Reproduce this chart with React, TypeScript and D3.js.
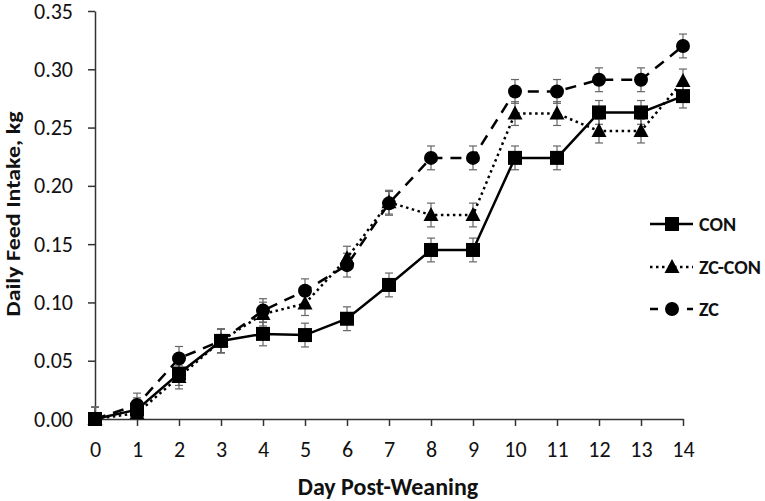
import * as d3 from "d3";
import React, { useEffect, useRef } from "react";

const days = [0, 1, 2, 3, 4, 5, 6, 7, 8, 9, 10, 11, 12, 13, 14];
const con = [0, 0.008, 0.039, 0.067, 0.073, 0.072, 0.086, 0.115, 0.145, 0.145, 0.224, 0.224, 0.263, 0.263, 0.277];
const zcCon = [0, 0.005, 0.036, 0.067, 0.09, 0.099, 0.138, 0.186, 0.175, 0.175, 0.262, 0.262, 0.247, 0.247, 0.29];
const zc = [0, 0.012, 0.052, 0.067, 0.093, 0.11, 0.132, 0.185, 0.224, 0.224, 0.281, 0.281, 0.291, 0.291, 0.32];
const errors = 0.0102;
const yTicks = [0, 0.05, 0.1, 0.15, 0.2, 0.25, 0.3, 0.35];

const seriesList = [
  { name: "CON", values: con, marker: "square", dash: null as string | null, legendDash: null as string | null },
  { name: "ZC-CON", values: zcCon, marker: "triangle", dash: "2.5,3.5", legendDash: "2.5,3.5" },
  { name: "ZC", values: zc, marker: "circle", dash: "11,8", legendDash: "8,29,6,100" },
];

const font = "Carlito, 'Open Sans', 'Noto Sans', sans-serif";

const App: React.FC = () => {
  const svgRef = useRef<SVGSVGElement>(null);

  useEffect(() => {
    const svg = d3.select(svgRef.current);
    svg.selectAll("*").remove();

    const x = d3.scaleLinear().domain([0, 14]).range([95, 683]);
    const y = d3.scaleLinear().domain([0, 0.35]).range([419, 11]);

    // y axis
    const yAxis = svg.append("g").attr("transform", "translate(95,0)")
      .call(d3.axisLeft(y).tickValues(yTicks).tickFormat(d3.format(".2f")).tickSize(7).tickSizeOuter(0));
    yAxis.select(".domain").attr("stroke", "#333").attr("stroke-width", 1.5);
    yAxis.selectAll(".tick line").attr("stroke", "#333").attr("stroke-width", 1.5);
    yAxis.selectAll(".tick text").attr("font-family", font).attr("font-size", 22).attr("fill", "#111").attr("x", -22);

    // x axis
    const xAxis = svg.append("g").attr("transform", "translate(0,419)")
      .call(d3.axisBottom(x).tickValues(days).tickFormat(d3.format("d")).tickSize(7).tickSizeOuter(0));
    xAxis.select(".domain").attr("stroke", "#333").attr("stroke-width", 1.5);
    xAxis.selectAll(".tick line").attr("stroke", "#333").attr("stroke-width", 1.5);
    xAxis.selectAll(".tick text").attr("font-family", font).attr("font-size", 22).attr("fill", "#111").attr("y", 22);

    // titles
    svg.append("text").attr("x", 388).attr("y", 495).attr("text-anchor", "middle")
      .attr("font-family", font).attr("font-weight", "bold").attr("font-size", 24).attr("fill", "#111")
      .text("Day Post-Weaning");
    svg.append("text").attr("transform", "translate(20,214) rotate(-90)").attr("text-anchor", "middle")
      .attr("font-family", font).attr("font-weight", "bold").attr("font-size", 21).attr("fill", "#111")
      .attr("textLength", 205).attr("lengthAdjust", "spacingAndGlyphs")
      .text("Daily Feed Intake, kg");

    const drawMarker = (g: d3.Selection<SVGGElement, unknown, null, undefined>, kind: string, cx: number, cy: number) => {
      if (kind === "square") {
        g.append("rect").attr("x", cx - 7).attr("y", cy - 7).attr("width", 14).attr("height", 14).attr("fill", "#000");
      } else if (kind === "triangle") {
        g.append("path").attr("d", `M${cx},${cy - 8}L${cx + 7.5},${cy + 6}L${cx - 7.5},${cy + 6}Z`).attr("fill", "#000");
      } else {
        g.append("circle").attr("cx", cx).attr("cy", cy).attr("r", 7).attr("fill", "#000");
      }
    };

    const line = d3.line<number>().x((_, i) => x(days[i])).y(d => y(d));

    // error bars first
    const eb = svg.append("g").attr("stroke", "#666").attr("stroke-width", 1.2);
    seriesList.forEach(s => {
      s.values.forEach((v, i) => {
        const cx = x(days[i]);
        const lo = y(Math.max(0, v - errors));
        const hi = y(v + errors);
        eb.append("line").attr("x1", cx).attr("x2", cx).attr("y1", lo).attr("y2", hi);
        eb.append("line").attr("x1", cx - 4).attr("x2", cx + 4).attr("y1", hi).attr("y2", hi);
        if (v - errors > 0) eb.append("line").attr("x1", cx - 4).attr("x2", cx + 4).attr("y1", lo).attr("y2", lo);
      });
    });

    seriesList.forEach(s => {
      const g = svg.append("g");
      const p = g.append("path").attr("d", line(s.values) as string).attr("fill", "none")
        .attr("stroke", "#000").attr("stroke-width", 2.5);
      if (s.dash) p.attr("stroke-dasharray", s.dash);
      s.values.forEach((v, i) => drawMarker(g as any, s.marker, x(days[i]), y(v)));
    });

    // legend
    const legY = [224, 267, 309];
    seriesList.forEach((s, i) => {
      const g = svg.append("g");
      const ly = legY[i];
      const l = g.append("line").attr("x1", 650).attr("x2", 693).attr("y1", ly).attr("y2", ly)
        .attr("stroke", "#000").attr("stroke-width", 2.5);
      if (s.legendDash) l.attr("stroke-dasharray", s.legendDash);
      drawMarker(g as any, s.marker, 672, ly);
      g.append("text").attr("x", 699).attr("y", ly + 6.5)
        .attr("font-family", font).attr("font-weight", "bold").attr("font-size", 20).attr("fill", "#111")
        .text(s.name);
    });
  }, []);

  return <svg ref={svgRef} width={765} height={501} style={{ position: "absolute", left: 0, top: 0, background: "#fff" }} />;
};

export default App;
